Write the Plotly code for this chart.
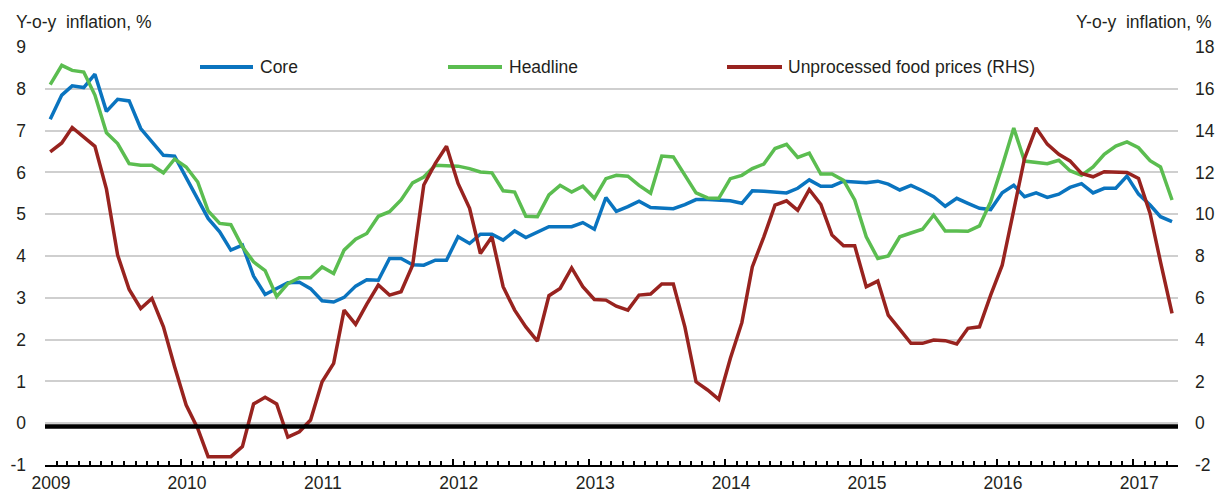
import pandas as pd
import plotly.graph_objects as go

# ---- data (monthly, Jan 2009 - Apr 2017) ----
months = pd.date_range("2009-01-01", "2017-04-01", freq="MS") + pd.Timedelta(days=14)

core = [7.27, 7.85, 8.07, 8.03, 8.35, 7.46, 7.75, 7.71, 7.05, 6.73, 6.41, 6.39,
        5.88, 5.37, 4.90, 4.58, 4.14, 4.26, 3.52, 3.08, 3.22, 3.36, 3.37, 3.22,
        2.93, 2.90, 3.01, 3.28, 3.43, 3.42, 3.94, 3.94, 3.79, 3.78, 3.90, 3.90,
        4.46, 4.30, 4.52, 4.52, 4.38, 4.60, 4.44, 4.58, 4.70, 4.70, 4.70, 4.80,
        4.64, 5.40, 5.07, 5.18, 5.31, 5.16, 5.14, 5.13, 5.23, 5.35, 5.35, 5.34,
        5.32, 5.26, 5.56, 5.55, 5.53, 5.51, 5.62, 5.82, 5.67, 5.67, 5.79, 5.77,
        5.75, 5.79, 5.72, 5.58, 5.69, 5.56, 5.42, 5.19, 5.38, 5.26, 5.14, 5.11,
        5.51, 5.69, 5.42, 5.51, 5.40, 5.48, 5.64, 5.73, 5.51, 5.62, 5.62, 5.91,
        5.48, 5.22, 4.94, 4.82]

headline = [8.10, 8.56, 8.44, 8.40, 7.85, 6.95, 6.69, 6.21, 6.17, 6.17, 5.99, 6.32,
            6.13, 5.77, 5.08, 4.78, 4.75, 4.22, 3.86, 3.65, 3.03, 3.34, 3.48, 3.48,
            3.74, 3.58, 4.14, 4.40, 4.54, 4.95, 5.06, 5.34, 5.75, 5.89, 6.17, 6.17,
            6.15, 6.09, 6.01, 5.99, 5.56, 5.53, 4.95, 4.94, 5.46, 5.69, 5.53, 5.67,
            5.38, 5.85, 5.93, 5.91, 5.69, 5.50, 6.39, 6.37, 5.93, 5.51, 5.39, 5.38,
            5.85, 5.93, 6.09, 6.20, 6.57, 6.67, 6.36, 6.46, 5.96, 5.96, 5.81, 5.34,
            4.46, 3.94, 4.00, 4.46, 4.55, 4.64, 4.98, 4.60, 4.60, 4.59, 4.72, 5.30,
            6.15, 7.06, 6.27, 6.24, 6.21, 6.29, 6.04, 5.93, 6.13, 6.43, 6.63, 6.73,
            6.59, 6.28, 6.13, 5.34]

food = [12.98, 13.41, 14.15, 13.70, 13.25, 11.20, 8.04, 6.40, 5.49, 5.97, 4.61, 2.70,
        0.87, -0.25, -1.60, -1.60, -1.60, -1.12, 0.92, 1.24, 0.92, -0.67, -0.41, 0.15,
        1.98, 2.86, 5.41, 4.73, 5.70, 6.61, 6.13, 6.29, 7.56, 11.40, 12.43, 13.25,
        11.47, 10.28, 8.12, 8.92, 6.53, 5.41, 4.61, 3.93, 6.10, 6.45, 7.43, 6.53,
        5.92, 5.89, 5.60, 5.41, 6.13, 6.18, 6.66, 6.66, 4.61, 1.98, 1.59, 1.14,
        3.10, 4.81, 7.48, 8.92, 10.43, 10.64, 10.19, 11.18, 10.47, 9.00, 8.49, 8.49,
        6.53, 6.80, 5.17, 4.49, 3.82, 3.82, 3.98, 3.95, 3.79, 4.54, 4.61, 6.13,
        7.56, 10.20, 12.67, 14.13, 13.35, 12.87, 12.55, 11.95, 11.79, 12.03, 12.03, 12.00,
        11.71, 10.04, 7.72, 5.26]

series_names = ["Core", "Headline", "Unprocessed food prices (RHS)"]
left_ticks = list(range(-1, 10))
right_ticks = list(range(-2, 19, 2))
axis_title = "Y-o-y\u00a0 inflation, %"

# ---- styling ----
FONT = "Liberation Sans, Arial, sans-serif"
TXT = "#231f20"
BLUE = "#0a74bf"
GREEN = "#5bbd50"
RED = "#98231f"
FS = 17.5

W, H = 1216, 492
ML, MR, MT, MB = 45, 38, 47, 27
PW = W - ML - MR
PH = H - MT - MB

def px_x(x):
    return (x - ML) / PW

def px_y(y):
    return (H - MB - y) / PH

fig = go.Figure()
fig.add_trace(go.Scatter(x=months, y=core, name=series_names[0], mode="lines",
                         line=dict(color=BLUE, width=3.5), yaxis="y"))
fig.add_trace(go.Scatter(x=months, y=headline, name=series_names[1], mode="lines",
                         line=dict(color=GREEN, width=3.5), yaxis="y"))
fig.add_trace(go.Scatter(x=months, y=food, name=series_names[2], mode="lines",
                         line=dict(color=RED, width=3.5), yaxis="y2"))

# zero line (thick black)
fig.add_shape(type="line", xref="paper", x0=0, x1=1, yref="y", y0=-0.08, y1=-0.08,
              line=dict(color="black", width=4.5), layer="above")

# manual legend
legend_items = [(200, 253, 258), (448, 502, 507), (727, 782, 786)]
colors = [BLUE, GREEN, RED]
for (lx0, lx1, tx), c, name in zip(legend_items, colors, series_names):
    fig.add_shape(type="line", xref="paper", yref="paper",
                  x0=px_x(lx0), x1=px_x(lx1), y0=px_y(67), y1=px_y(67),
                  line=dict(color=c, width=4))
    fig.add_annotation(xref="paper", yref="paper", x=px_x(tx), y=px_y(67),
                       xanchor="left", yanchor="middle", text=name, showarrow=False,
                       font=dict(family=FONT, size=FS, color=TXT))

# axis titles
fig.add_annotation(xref="paper", yref="paper", x=px_x(14), y=px_y(22),
                   xanchor="left", yanchor="middle", text=axis_title, showarrow=False,
                   font=dict(family=FONT, size=FS, color=TXT))
fig.add_annotation(xref="paper", yref="paper", x=px_x(1214), y=px_y(22),
                   xanchor="right", yanchor="middle", text=axis_title, showarrow=False,
                   font=dict(family=FONT, size=FS, color=TXT))

fig.update_layout(
    width=W, height=H,
    margin=dict(l=ML, r=MR, t=MT, b=MB, pad=0, autoexpand=False),
    paper_bgcolor="white", plot_bgcolor="white",
    showlegend=False,
    font=dict(family=FONT, size=FS, color=TXT),
    xaxis=dict(
        type="date", range=["2009-01-01", "2017-05-01"], automargin=False,
        tickformat="%Y", dtick="M12", tick0="2009-01-01",
        ticks="inside", ticklen=6, tickwidth=1.5, tickcolor="black",
        showline=True, linecolor="black", linewidth=2,
        showgrid=False, zeroline=False,
        ticklabelshift=6, ticklabelstandoff=1,
        minor=dict(dtick="M1", tick0="2009-01-01", ticks="inside", ticklen=4,
                   tickwidth=1.5, tickcolor="black", showgrid=False),
        tickfont=dict(family=FONT, size=FS, color=TXT),
    ),
    yaxis=dict(
        range=[-1, 9], tickvals=left_ticks, ticktext=[str(v) for v in left_ticks],
        ticks="", automargin=False,
        showgrid=True, gridcolor="#cfcfcf", gridwidth=2,
        zeroline=False, showline=False, ticklabelstandoff=18,
        tickfont=dict(family=FONT, size=FS, color=TXT),
    ),
    yaxis2=dict(
        range=[-2, 18], tickvals=right_ticks, ticktext=[str(v) for v in right_ticks],
        ticks="", overlaying="y", side="right", automargin=False,
        showgrid=False, zeroline=False, showline=False, ticklabelstandoff=16,
        tickfont=dict(family=FONT, size=FS, color=TXT),
    ),
)

fig.write_html(
    "out.html",
    config={"displayModeBar": False},
    post_script="document.documentElement.style.margin='0';document.body.style.margin='0';",
)
